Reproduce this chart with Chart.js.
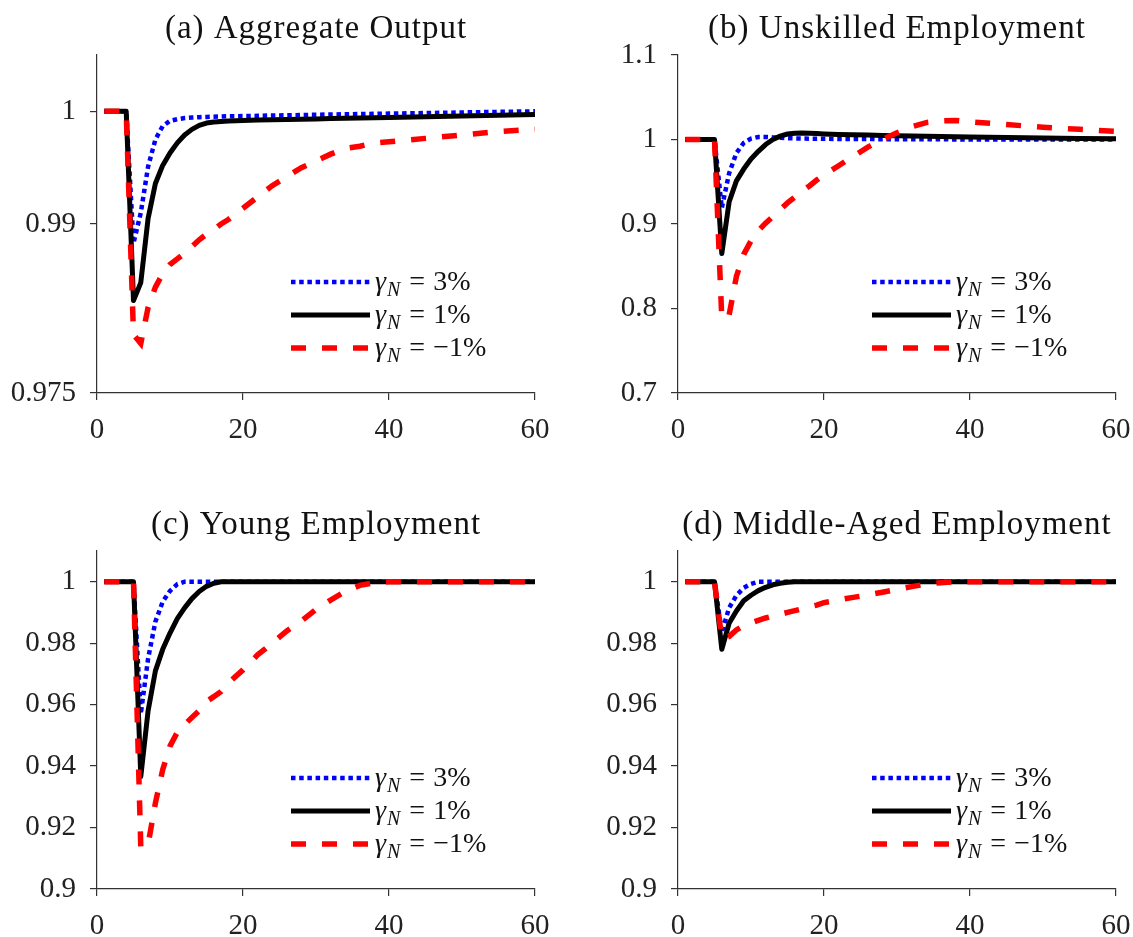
<!DOCTYPE html>
<html>
<head>
<meta charset="utf-8">
<script src="https://cdn.jsdelivr.net/npm/chart.js@4/dist/chart.umd.min.js"></script>
<style>
  body { margin: 0; background: #fff; }
  #wrap { position: relative; width: 1133px; height: 937px; overflow: hidden; }
  canvas { position: absolute; }
</style>
</head>
<body>
<div id="wrap">
  <canvas id="panel-a" width="552" height="444" style="left:0;top:0"></canvas>
  <canvas id="panel-b" width="552" height="444" style="left:581px;top:0"></canvas>
  <canvas id="panel-c" width="552" height="444" style="left:0;top:496px"></canvas>
  <canvas id="panel-d" width="552" height="444" style="left:581px;top:496px"></canvas>
</div>
<script>
// periods after the shock (x axis)
const periods = [1,2,3,4,5,6,7,8,9,10,11,12,13,14,15,16,17,18,19,20,22,24,26,28,30,32,34,36,38,40,45,50,55,60];
const xTicks = [0, 20, 40, 60];
const gammaLabels = ['3%', '1%', '\u22121%'];
const panelTitles = ['(a) Aggregate Output', '(b) Unskilled Employment', '(c) Young Employment', '(d) Middle-Aged Employment'];

// (a) aggregate output
const outputHigh = [1,1,1,1,0.9883,0.9910,0.9951,0.9975,0.99869,0.99915,0.9993,0.9994,0.99945,0.99948,0.9995,0.99952,0.99954,0.99956,0.99957,0.99958,
  0.9996,0.99963,0.99965,0.99967,0.9997,0.99972,0.99974,0.99976,0.99978,0.9998,0.99985,0.9999,0.99995,1.0];
const outputMid = [1,1,1,1,0.9832,0.9848,0.9905,0.9936,0.9952,0.9963,0.9972,0.9979,0.9984,0.99875,0.99896,0.99905,0.9991,0.99914,0.99917,0.99919,
  0.99922,0.99925,0.99928,0.9993,0.99933,0.99936,0.99938,0.9994,0.99943,0.99945,0.99952,0.99958,0.99965,0.99972];
const outputLow = [1,1,1,1,0.9802,0.9794,0.9826,0.9844,0.9856,0.9864,0.9869,0.9874,0.9880,0.9886,0.9891,0.9895,0.9900,0.9904,0.9909,0.9914,
  0.9924,0.9934,0.9942,0.9950,0.9956,0.9962,0.9967,0.9969,0.9972,0.9973,0.9976,0.9979,0.9982,0.9984];
const outputTicks = [0.975, 0.99, 1];

// (b) unskilled employment
const unskilledHigh = [1,1,1,1,1,0.919,0.96,0.984,0.996,1.001,1.003,1.003,1.0025,1.002,1.0016,1.0013,1.0011,1.001,1.0009,1.0008,
  1.0007,1.0006,1.0005,1.0004,1.0003,1.0003,1.0002,1.0002,1.0001,1.0001,1,1,1,1];
const unskilledMid = [1,1,1,1,1,0.865,0.926,0.951,0.965,0.977,0.986,0.994,1.0,1.004,1.0065,1.0075,1.0076,1.0073,1.007,1.0066,
  1.006,1.0056,1.0052,1.0048,1.0045,1.0042,1.0039,1.0036,1.0033,1.003,1.0024,1.0018,1.0013,1.0008];
const unskilledLow = [1,1,1,1,1,0.788,0.792,0.838,0.864,0.880,0.892,0.901,0.909,0.917,0.925,0.932,0.939,0.945,0.952,0.958,
  0.969,0.980,0.991,1.000,1.008,1.015,1.020,1.022,1.0225,1.021,1.0177,1.0145,1.012,1.0095];
const unskilledTicks = [0.7, 0.8, 0.9, 1, 1.1];

// (c) young employment
const youngHigh = [1,1,1,1,1,0.957,0.975,0.987,0.9935,0.997,0.9992,1,1,1,1,1,1,1,1,1,
  1,1,1,1,1,1,1,1,1,1,1,1,1,1];
const youngMid = [1,1,1,1,1,0.9366,0.958,0.971,0.978,0.9833,0.988,0.9915,0.9945,0.9968,0.9985,0.9995,1,1,1,1,
  1,1,1,1,1,1,1,1,1,1,1,1,1,1];
const youngLow = [1,1,1,1,1,0.9135,0.9145,0.928,0.9388,0.9465,0.951,0.9535,0.9558,0.958,0.961,0.9626,0.9643,0.967,0.9692,0.9713,
  0.9762,0.980,0.984,0.9872,0.991,0.994,0.9968,0.9988,0.9997,1,1,1,1,1];

// (d) middle-aged employment
const middleHigh = [1,1,1,1,1,0.9835,0.9915,0.9955,0.998,0.9993,1,1,1,1,1,1,1,1,1,1,
  1,1,1,1,1,1,1,1,1,1,1,1,1,1];
const middleMid = [1,1,1,1,1,0.978,0.9865,0.9905,0.9938,0.9956,0.9971,0.9982,0.999,0.9995,0.9998,1,1,1,1,1,
  1,1,1,1,1,1,1,1,1,1,1,1,1,1];
const middleLow = [1,1,1,1,1,0.9815,0.9822,0.9843,0.9857,0.9866,0.9874,0.9882,0.9888,0.9894,0.99,0.9906,0.9912,0.9918,0.9924,0.9932,
  0.9941,0.9949,0.9957,0.9966,0.9975,0.9984,0.9992,0.9997,1,1,1,1,1,1];
const employmentTicks = [0.9, 0.92, 0.94, 0.96, 0.98, 1];

const FONT = '"Liberation Serif", "Times New Roman", serif';
const AXIS = '#333';

// title + legend with gamma_N drawn as text
const panelText = {
  id: 'panelText',
  afterDraw(chart, args, opts) {
    const ctx = chart.ctx, area = chart.chartArea;
    ctx.save();
    ctx.fillStyle = '#111';
    ctx.textBaseline = 'alphabetic';
    ctx.textAlign = 'center';
    ctx.font = '33px ' + FONT;
    if ('letterSpacing' in ctx) ctx.letterSpacing = '1px';
    ctx.fillText(opts.title, (area.left + area.right) / 2, 38);
    if ('letterSpacing' in ctx) ctx.letterSpacing = '0px';
    ctx.textAlign = 'left';

    const x0 = area.left + 194;
    const y0 = area.bottom - 111;
    [0, 1, 2].forEach(i => {
      const ds = chart.data.datasets[i];
      const y = y0 + i * 33;
      ctx.strokeStyle = ds.borderColor;
      ctx.lineWidth = ds.borderWidth;
      ctx.lineCap = 'butt';
      ctx.setLineDash(ds.borderDash || []);
      ctx.beginPath();
      ctx.moveTo(x0, y);
      ctx.lineTo(x0 + 79, y);
      ctx.stroke();
      ctx.setLineDash([]);

      let x = x0 + 84;
      ctx.font = 'italic 28px ' + FONT;
      ctx.fillText('\u03b3', x, y + 8);
      x += ctx.measureText('\u03b3').width + 1;
      ctx.font = 'italic 20px ' + FONT;
      ctx.fillText('N', x, y + 14);
      x += ctx.measureText('N').width + 9;
      ctx.font = '28px ' + FONT;
      ctx.fillText('=', x, y + 8);
      x += ctx.measureText('=').width + 8;
      ctx.fillText(ds.label, x, y + 8);
    });
    ctx.restore();
  }
};

function toPoints(values) {
  return periods.map((p, i) => ({ x: p, y: values[i] }));
}

function makePanel(id, title, yMin, yMax, yTicks, high, mid, low) {
  new Chart(document.getElementById(id), {
    type: 'line',
    data: {
      datasets: [
        { label: gammaLabels[0], data: toPoints(high), borderColor: '#0000ff', borderWidth: 4.5, borderDash: [4.5, 3.7], borderCapStyle: 'butt', order: 3 },
        { label: gammaLabels[1], data: toPoints(mid), borderColor: '#000000', borderWidth: 5, borderJoinStyle: 'round', order: 2 },
        { label: gammaLabels[2], data: toPoints(low), borderColor: '#ff0000', borderWidth: 5.5, borderDash: [15, 16], borderCapStyle: 'butt', order: 1 }
      ]
    },
    options: {
      responsive: false,
      animation: false,
      events: [],
      layout: { padding: { top: 55, right: 17, left: 0, bottom: 0 } },
      elements: { point: { radius: 0 }, line: { tension: 0, fill: false } },
      plugins: { legend: { display: false }, tooltip: { enabled: false }, panelText: { title } },
      scales: {
        x: {
          type: 'linear', min: 0, max: 60,
          afterBuildTicks: s => { s.ticks = xTicks.map(v => ({ value: v })); },
          afterFit: s => { s.height = 51; s.paddingLeft = 0; s.paddingRight = 0; },
          ticks: { autoSkip: false, maxRotation: 0, padding: 13, color: '#222', font: { family: FONT, size: 29 }, callback: v => String(v) },
          grid: { drawOnChartArea: false, drawTicks: true, tickLength: 7, color: AXIS, lineWidth: 1.2 },
          border: { display: true, color: AXIS, width: 1.2 }
        },
        y: {
          min: yMin, max: yMax,
          afterBuildTicks: s => { s.ticks = yTicks.map(v => ({ value: v })); },
          afterFit: s => { s.width = 97; s.paddingTop = 0; s.paddingBottom = 0; },
          ticks: { autoSkip: false, padding: 14, color: '#222', font: { family: FONT, size: 29 }, callback: v => String(Math.round(v * 1000) / 1000) },
          grid: { drawOnChartArea: false, drawTicks: true, tickLength: 7, color: AXIS, lineWidth: 1.2 },
          border: { display: true, color: AXIS, width: 1.2 }
        }
      }
    },
    plugins: [panelText]
  });
}

makePanel('panel-a', panelTitles[0], 0.975, 1.005, outputTicks, outputHigh, outputMid, outputLow);
makePanel('panel-b', panelTitles[1], 0.7, 1.1, unskilledTicks, unskilledHigh, unskilledMid, unskilledLow);
makePanel('panel-c', panelTitles[2], 0.9, 1.01, employmentTicks, youngHigh, youngMid, youngLow);
makePanel('panel-d', panelTitles[3], 0.9, 1.01, employmentTicks, middleHigh, middleMid, middleLow);
</script>
</body>
</html>
